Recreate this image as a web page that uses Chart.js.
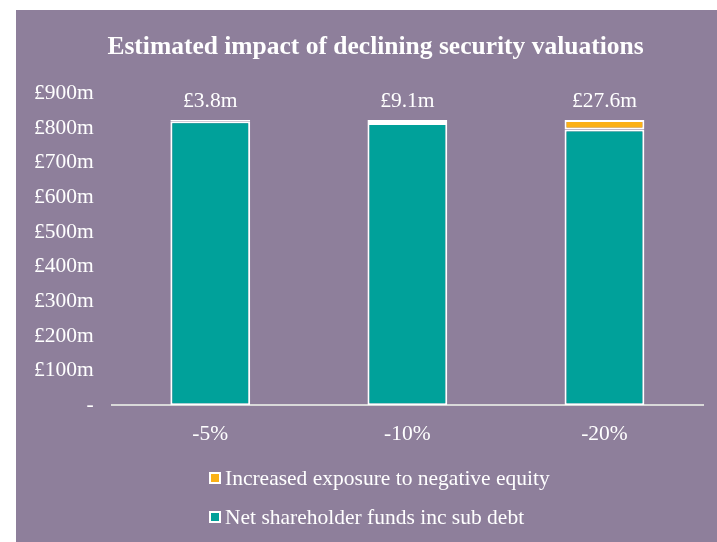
<!DOCTYPE html>
<html>
<head>
<meta charset="utf-8">
<script src="https://cdn.jsdelivr.net/npm/chart.js@4"></script>
<style>
  html, body { margin: 0; padding: 0; background: #ffffff; }
  #wrap { position: absolute; left: 16px; top: 10px; width: 701px; height: 532px; background: #8e7f9b; }
</style>
</head>
<body>
<div id="wrap"><canvas id="chart"></canvas></div>
<script>
Chart.defaults.font.family = '"Liberation Serif", "Times New Roman", serif';
Chart.defaults.color = '#ffffff';

const categories = ['-5%', '-10%', '-20%'];
const netFunds = [820.2, 814.9, 796.4];
const exposure = [3.8, 9.1, 27.6];
const exposureLabels = ['£3.8m', '£9.1m', '£27.6m'];
const seriesNames = ['Net shareholder funds inc sub debt', 'Increased exposure to negative equity'];

const TEAL = '#00a19a';
const ORANGE = '#fbb116';
const TXT = '21.5px "Liberation Serif", serif';

// title sits a little right of the canvas centre in the original
const nudgeTitle = {
  id: 'nudgeTitle',
  afterLayout(chart) {
    const t = chart.titleBlock;
    if (t) { t.left += 16; t.right += 16; }
  }
};

// values written above each stacked bar
const topLabels = {
  id: 'topLabels',
  afterDatasetsDraw(chart) {
    const ctx = chart.ctx;
    const meta = chart.getDatasetMeta(1);
    ctx.save();
    ctx.fillStyle = '#ffffff';
    ctx.font = TXT;
    ctx.textAlign = 'center';
    ctx.textBaseline = 'bottom';
    meta.data.forEach((bar, i) => {
      ctx.fillText(exposureLabels[i], bar.x, bar.y - 8);
    });
    ctx.restore();
  }
};

// two-row legend under the axis, orange item first
const stackedLegend = {
  id: 'stackedLegend',
  afterDraw(chart) {
    const ctx = chart.ctx;
    const items = [[seriesNames[1], ORANGE], [seriesNames[0], TEAL]];
    ctx.save();
    ctx.font = TXT;
    ctx.textBaseline = 'middle';
    items.forEach((it, i) => {
      const y = 468 + i * 39;
      ctx.fillStyle = '#ffffff';
      ctx.fillRect(193, y - 6, 12, 12);
      ctx.fillStyle = it[1];
      ctx.fillRect(195, y - 4, 8, 8);
      ctx.fillStyle = '#ffffff';
      ctx.fillText(it[0], 209, y + 1);
    });
    ctx.restore();
  }
};

new Chart(document.getElementById('chart'), {
  type: 'bar',
  data: {
    labels: categories,
    datasets: [
      { label: seriesNames[0], data: netFunds, backgroundColor: TEAL, borderColor: '#ffffff', borderWidth: 2, borderSkipped: false, barPercentage: 0.81, categoryPercentage: 0.5 },
      { label: seriesNames[1], data: exposure, backgroundColor: ORANGE, borderColor: '#ffffff', borderWidth: 2, borderSkipped: false, barPercentage: 0.81, categoryPercentage: 0.5 }
    ]
  },
  options: {
    responsive: true,
    maintainAspectRatio: false,
    animation: false,
    layout: { padding: { top: 10, left: 0, right: 14, bottom: 79 } },
    plugins: {
      legend: { display: false },
      tooltip: { enabled: false },
      title: {
        display: true,
        text: 'Estimated impact of declining security valuations',
        color: '#ffffff',
        font: { size: 25.5, weight: 'bold' },
        padding: { top: 12, bottom: 31 }
      }
    },
    scales: {
      x: {
        stacked: true,
        grid: { display: false, drawTicks: false },
        border: { display: true, color: '#d9d9d9', width: 2 },
        ticks: { color: '#ffffff', font: { size: 21.5 }, padding: 16 }
      },
      y: {
        stacked: true,
        min: 0,
        max: 900,
        grid: { display: false, drawTicks: false },
        border: { display: false },
        ticks: {
          stepSize: 100,
          color: '#ffffff',
          font: { size: 21.5 },
          padding: 18,
          callback: v => v === 0 ? '-' : '£' + v + 'm'
        }
      }
    }
  },
  plugins: [nudgeTitle, topLabels, stackedLegend]
});
</script>
</body>
</html>
